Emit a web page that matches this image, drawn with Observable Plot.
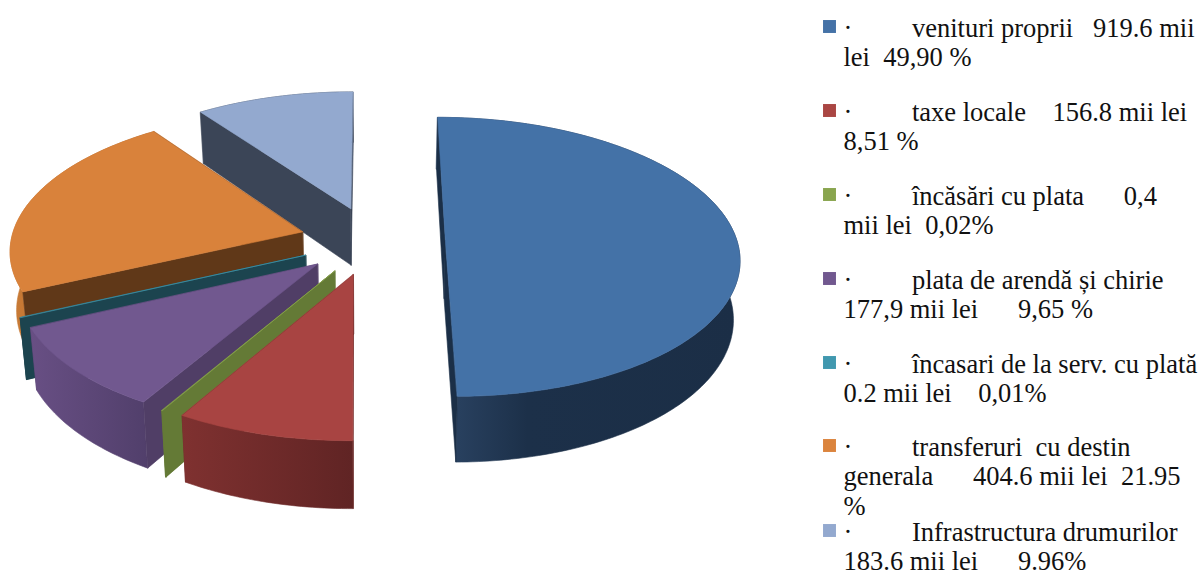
<!DOCTYPE html>
<html>
<head>
<meta charset="utf-8">
<script src="https://cdn.jsdelivr.net/npm/d3@7"></script>
<script src="https://cdn.jsdelivr.net/npm/@observablehq/plot@0.6"></script>
<style>html,body{margin:0;padding:0;background:#fff}svg{display:block}</style>
</head>
<body>
<div id="chart"></div>
<script>
// Data
const categories = ["venituri proprii","taxe locale","încăsări cu plata","plata de arendă și chirie","încasari de la serv. cu plată","transferuri cu destin generala","Infrastructura drumurilor"];
const values = [919.6,156.8,0.4,177.9,0.2,404.6,183.6];
const legendLines = [
  ["·         venituri proprii   919.6 mii","lei  49,90 %"],
  ["·         taxe locale    156.8 mii lei","8,51 %"],
  ["·         încăsări cu plata      0,4","mii lei  0,02%"],
  ["·         plata de arendă și chirie","177,9 mii lei      9,65 %"],
  ["·         încasari de la serv. cu plată","0.2 mii lei    0,01%"],
  ["·         transferuri  cu destin","generala      404.6 mii lei  21.95","%"],
  ["·         Infrastructura drumurilor","183.6 mii lei      9.96%"]
];
// Styles
const swatchColors = ["#4572A7","#AA4643","#89A54E","#71588F","#4198AF","#DB843D","#93A9CF"];
const topColors = ["#4472A7","#A84442","#89A54E","#71588F","#4198AF","#D9823B","#93A9CF"];
const radialColors = ["#1B2F47","#6A2827","#647A36","#503E66","#1C444F","#603818","#3B4557"];
const wallStops = [
  [[0,"#2C4565"],[0.3,"#1C3049"],[1,"#1B2E46"]],
  [[0,"#7F3130"],[1,"#602424"]],
  [[0,"#647A36"],[1,"#647A36"]],
  [[0,"#684F84"],[1,"#513F6B"]],
  [[0,"#1C444F"],[1,"#1C444F"]],
  [[0,"#C97B36"],[1,"#A5622A"]],
  [[0,"#3B4557"],[1,"#3B4557"]]
];
// Layout of the tilted pie
const view = {x0:372,y0:240,rx:291.5,ry:137.6,persp:0.118,depth:58,shrink:0.982,explode:0.25};
const legendFirstBaseline = [36,120,204,288,372,455,540];
const lineStep = 29.6;
const legendX = 843, swatchX = 829, swatchOffset = -10;

const total = d3.sum(values);
const project = (X,Y,bottom) => {
  const s = 1/(1+view.persp*Y);
  return {
    x: view.x0+view.rx*X*s*(bottom?view.shrink:1),
    y: view.y0-view.ry*Y*s+(bottom?view.depth*s:0)
  };
};
const area = p => d3.polygonArea(p.map(d=>[d.x,d.y]));
let acc = 0;
const faces = [];
const slices = values.map((v,i)=>{const a0=acc/total*2*Math.PI; acc+=v; return {i,a0,a1:acc/total*2*Math.PI};});
// Painter's order: back to front
for (const i of [6,5,4,3,2,1,0]) {
  const {a0,a1} = slices[i];
  const mid=(a0+a1)/2, ex=view.explode*Math.sin(mid), ey=view.explode*Math.cos(mid);
  const rim = bottom => {
    const n=Math.max(2,Math.ceil((a1-a0)*180/Math.PI));
    return d3.range(n+1).map(k=>{
      const a=a0+(a1-a0)*k/n;
      return project(ex+Math.sin(a),ey+Math.cos(a),bottom);
    });
  };
  const top=rim(false), bot=rim(true);
  const c=project(ex,ey,false), cb=project(ex,ey,true);
  const wallOuter=[...top,...bot.slice().reverse()];
  const startWall=[c,top[0],bot[0],cb];
  const endWall=[c,top[top.length-1],bot[bot.length-1],cb];
  // hidden radial walls go under the rim wall, visible ones over it
  const startVisible = area(startWall)>0, endVisible = area(endWall)<0;
  const walls=[[startWall,startVisible],[endWall,endVisible]];
  walls.filter(w=>!w[1]).forEach(w=>faces.push({pts:w[0],fill:radialColors[i]}));
  faces.push({pts:wallOuter,fill:`url(#wall${i})`});
  walls.filter(w=>w[1]).forEach(w=>faces.push({pts:w[0],fill:radialColors[i]}));
  faces.push({pts:[c,...top],fill:topColors[i]});
}

const defs = () => {
  const d = d3.create("svg:defs");
  wallStops.forEach((stops,i)=>{
    const g=d.append("linearGradient").attr("id",`wall${i}`).attr("x1",0).attr("x2",1).attr("y1",0).attr("y2",0);
    stops.forEach(([o,c])=>g.append("stop").attr("offset",o).attr("stop-color",c));
  });
  return d.node();
};

const textRows = legendLines.flatMap((lines,i)=>lines.map((t,j)=>({t,y:legendFirstBaseline[i]+j*lineStep})));
const swatches = categories.map((c,i)=>({c,color:swatchColors[i],y:legendFirstBaseline[i]+swatchOffset}));

const plot = Plot.plot({
  width:1203,height:572,margin:0,
  x:{domain:[0,1203],range:[0,1203],axis:null},
  y:{domain:[0,572],range:[0,572],axis:null},
  style:{whiteSpace:"pre",background:"#fff"},
  marks:[
    defs,
    ...faces.map(f=>Plot.line(f.pts,{x:"x",y:"y",curve:"linear-closed",fill:f.fill,stroke:f.fill,strokeWidth:0.6})),
    Plot.dot(swatches,{x:()=>swatchX,y:"y",symbol:"square",r:7.3,fill:"color",stroke:"none"}),
    Plot.text(textRows,{x:()=>legendX,y:"y",text:"t",textAnchor:"start",lineAnchor:"bottom",fontSize:26.5,fontFamily:"Liberation Serif, Times New Roman, serif",fill:"#111"})
  ],
  color:{type:"identity"}
});
document.getElementById("chart").appendChild(plot);
</script>
</body>
</html>
